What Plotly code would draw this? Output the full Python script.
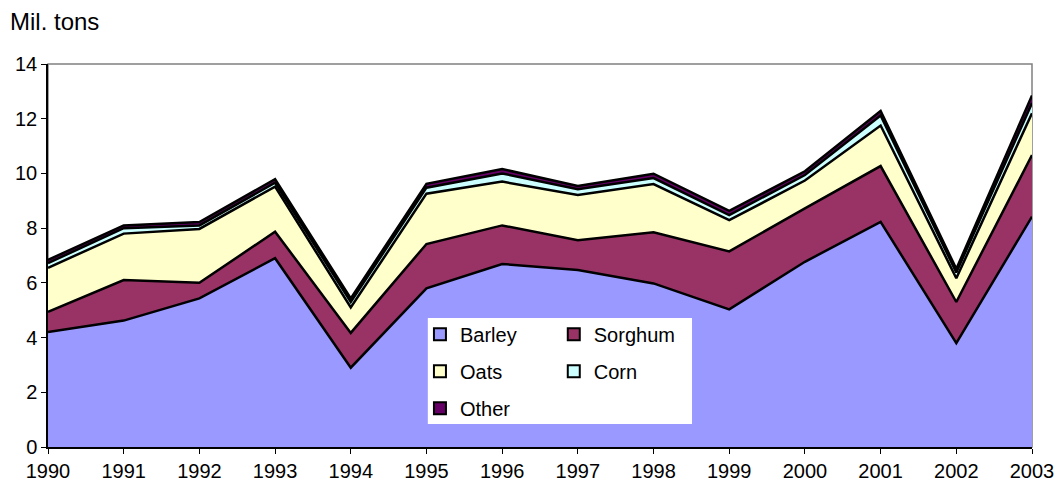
import plotly.graph_objects as go

years = list(range(1990, 2004))
barley = [4.2, 4.62, 5.43, 6.9, 2.9, 5.8, 6.69, 6.47, 5.98, 5.03, 6.77, 8.23, 3.8, 8.42]
sorghum = [0.74, 1.48, 0.57, 0.97, 1.27, 1.62, 1.41, 1.09, 1.87, 2.12, 1.95, 2.04, 1.5, 2.25]
oats = [1.61, 1.7, 1.97, 1.65, 0.93, 1.84, 1.6, 1.65, 1.76, 1.14, 1.02, 1.48, 0.87, 1.53]
corn = [0.17, 0.2, 0.13, 0.14, 0.2, 0.22, 0.3, 0.21, 0.22, 0.19, 0.2, 0.37, 0.21, 0.37]
other = [0.12, 0.1, 0.12, 0.13, 0.13, 0.14, 0.16, 0.12, 0.16, 0.15, 0.14, 0.16, 0.13, 0.28]

names = ["Barley", "Sorghum", "Oats", "Corn", "Other"]
series = [barley, sorghum, oats, corn, other]
colors = {"Barley": "#9999FF", "Sorghum": "#993366", "Oats": "#FFFFCC",
          "Corn": "#CCFFFF", "Other": "#660066"}
legend_of = {"Barley": "legend", "Oats": "legend", "Other": "legend",
             "Sorghum": "legend2", "Corn": "legend2"}

FONT = "Arial, Liberation Sans, sans-serif"

fig = go.Figure()

for name, vals in zip(names, series):
    fig.add_trace(go.Scatter(
        x=years, y=vals, name=name, stackgroup="one", mode="lines",
        line={"color": "black", "width": 2.5},
        fillcolor=colors[name], showlegend=False,
    ))

# legend entries as square markers
for name in ["Barley", "Oats", "Other", "Sorghum", "Corn"]:
    fig.add_trace(go.Scatter(
        x=[None], y=[None], name=name, mode="markers",
        marker={"symbol": "square", "size": 12, "color": colors[name],
                "line": {"color": "black", "width": 2}},
        legend=legend_of[name], legendgroup=name,
    ))

legend_common = dict(
    orientation="v", yanchor="top", y=0.345, xanchor="left",
    bgcolor="rgba(0,0,0,0)", font={"family": FONT, "size": 20, "color": "black"},
    tracegroupgap=8, itemclick=False, itemdoubleclick=False,
)

fig.update_layout(
    width=1058, height=484,
    margin={"l": 48, "r": 26, "t": 64, "b": 37, "autoexpand": False},
    plot_bgcolor="white", paper_bgcolor="white",
    font={"family": FONT, "size": 20, "color": "black"},
    title={"text": "Mil. tons", "x": 10 / 1058, "xanchor": "left",
           "y": 1 - 22 / 484, "yanchor": "middle", "yref": "container",
           "font": {"family": FONT, "size": 24, "color": "black"}},
    legend=dict(x=0.378, **legend_common),
    legend2=dict(x=0.514, **legend_common),
    shapes=[
        dict(type="rect", xref="paper", yref="paper", x0=0, x1=1, y0=0, y1=1,
             line={"color": "#808080", "width": 1.5}, layer="below"),
        dict(type="rect", xref="paper", yref="paper", x0=0.386, x1=0.6545,
             y0=0.06, y1=0.3368, fillcolor="white", line={"width": 0},
             layer="above"),
    ],
)

fig.update_xaxes(
    range=[1990, 2003], tickvals=years, ticktext=[str(y) for y in years],
    showgrid=False, zeroline=False, showline=True, linecolor="black",
    linewidth=1.5, ticks="outside", ticklen=5, tickcolor="black",
    tickfont={"family": FONT, "size": 20, "color": "black"}, automargin=False,
)
fig.update_yaxes(
    range=[0, 14], dtick=2, showgrid=False, zeroline=False, showline=True,
    linecolor="black", linewidth=1.5, ticks="outside", ticklen=5,
    tickcolor="black", tickfont={"family": FONT, "size": 20, "color": "black"},
    automargin=False,
)

fig.write_html("out.html", config={"displayModeBar": False},
               post_script="document.body.style.margin='0';")
